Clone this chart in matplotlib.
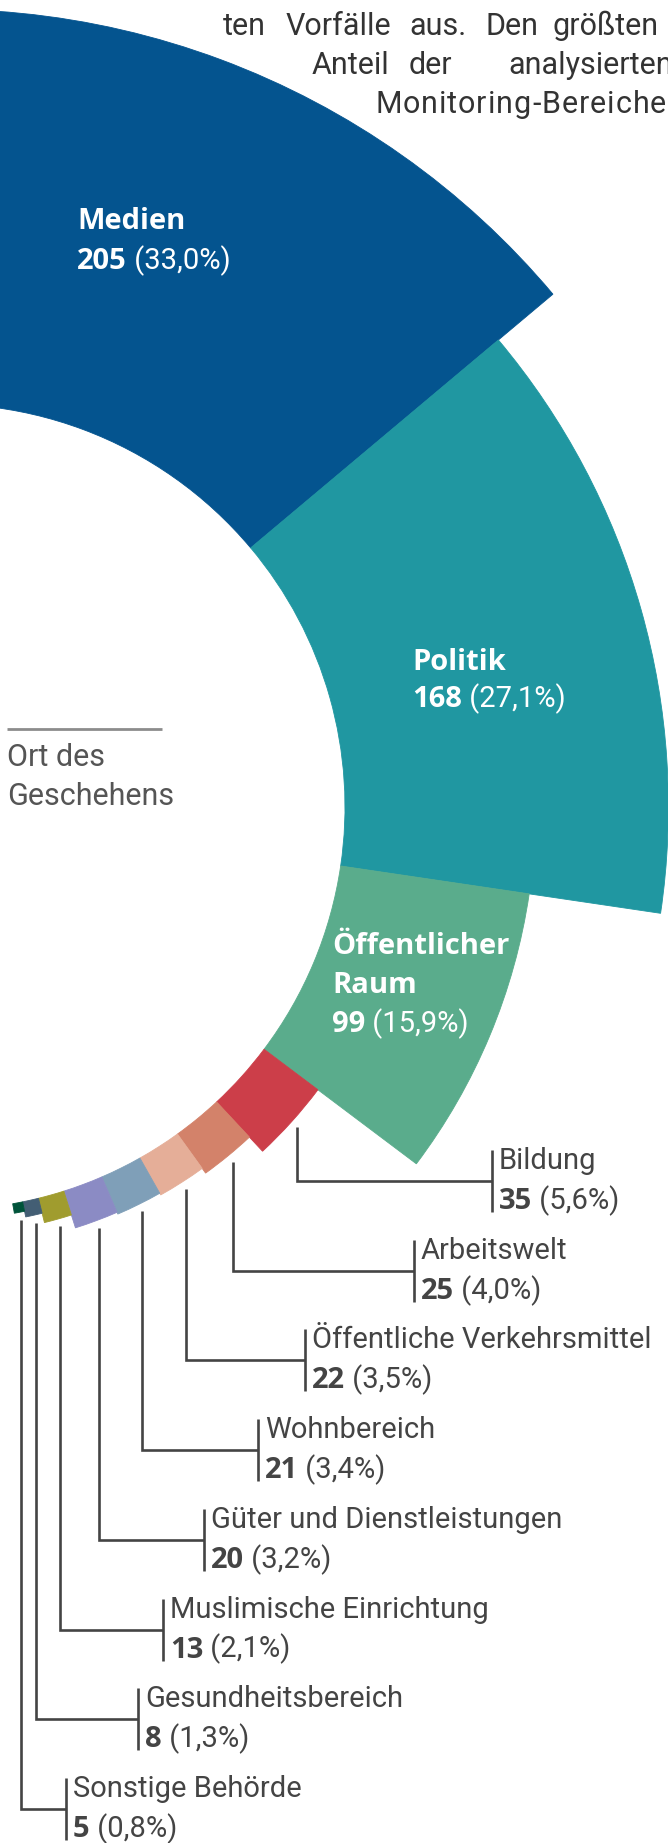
import numpy as np
import matplotlib
matplotlib.use("Agg")
import matplotlib.pyplot as plt

plt.rcParams['font.family'] = ['Roboto', 'DejaVu Sans']

# Daten: Ort des Geschehens
categories = ["Medien", "Politik", "Öffentlicher Raum", "Bildung", "Arbeitswelt",
              "Öffentliche Verkehrsmittel", "Wohnbereich", "Güter und Dienstleistungen",
              "Muslimische Einrichtung", "Gesundheitsbereich", "Sonstige Behörde"]
counts = [205, 168, 99, 35, 25, 22, 21, 20, 13, 8, 5]
colors = ["#04548f", "#2097a1", "#5aac8c", "#cc3e49", "#d3826a", "#e5ae98",
          "#7f9fb8", "#8b8bc4", "#a09c2e", "#435e74", "#00533a"]

# Fliesstext oben (abgeschnitten)
para_lines = [["ten", "Vorfälle", "aus.", "Den", "größten"],
              ["Anteil", "der", "analysierten"]]
para_last = "Monitoring-Bereiche"

# Layout (Pixel)
W, H = 668, 1843
CX, CY = -58, 807          # Kreismittelpunkt
PX_PER_UNIT = 1.925
INNER = 403 / PX_PER_UNIT  # innerer Radius in Einheiten
RMAX = 460
START, SWEEP = 99.1, 179.0
FS = 21
TXT = "#444444"
BOLD = ['Open Sans', 'DejaVu Sans']


def two_part(ax, x, y, bold, normal, color, size=FS):
    """fetter Teil + normaler Teil auf einer Grundlinie"""
    t = ax.text(x, y, bold, family=BOLD, fontweight='bold', color=color,
                fontsize=size, ha='left', va='baseline')
    ax.annotate(normal, xy=(1, 0), xycoords=t, ha='left', va='bottom',
                color=color, fontsize=size)


def fmt_pct(p):
    return f"{p:.1f}".replace('.', ',') + "%"


fig = plt.figure(figsize=(W / 100, H / 100), dpi=100)
R_px = RMAX * PX_PER_UNIT
pax = fig.add_axes([(CX - R_px) / W, (H - CY - R_px) / H, 2 * R_px / W, 2 * R_px / H],
                   projection='polar')
pax.set_theta_offset(np.deg2rad(START))
pax.set_theta_direction(-1)
pax.set_ylim(0, RMAX)
pax.axis('off')

values = np.array(counts, dtype=float)
pct = values / values.sum() * 100
widths = np.deg2rad(values / values.sum() * SWEEP)
lefts = np.concatenate([[0], np.cumsum(widths)[:-1]])
pax.bar(lefts, values, width=widths, bottom=INNER, align='edge',
        color=colors, edgecolor=colors, linewidth=0.6)

oax = fig.add_axes([0, 0, 1, 1])
oax.set_xlim(0, W)
oax.set_ylim(H, 0)
oax.axis('off')
oax.patch.set_visible(False)

# Beschriftungen in den grossen Segmenten
inner_labels = [(77, ["Medien"], [229, 269]),
                (412, ["Politik"], [670, 707]),
                (332, ["Öffentlicher", "Raum"], [954, 993, 1032])]
for i, (x, names, ys) in enumerate(inner_labels):
    for name, y in zip(names, ys):
        oax.text(x, y, name, color='white', fontsize=FS, family=BOLD,
                 fontweight='bold', ha='left', va='baseline')
    two_part(oax, x, ys[-1], f"{counts[i]}", f" ({fmt_pct(pct[i])})", 'white')

# kleine Segmente mit Fuehrungslinien
label_x = [492, 414, 305, 258, 204, 163, 138, 66]
row0, row_step = 1181, 89.7
gap = 4
for j, i in enumerate(range(3, len(counts))):
    mid = lefts[i] + widths[i] / 2
    disp = pax.transData.transform((mid, INNER + values[i] + gap))
    x0, y0 = oax.transData.inverted().transform(disp)
    ry = row0 + j * row_step
    bx = label_x[j]
    oax.plot([x0, x0, bx], [y0, ry, ry], color=TXT, lw=1.9,
             solid_joinstyle='miter', solid_capstyle='butt')
    oax.plot([bx, bx], [ry - 31, ry + 31], color=TXT, lw=1.9, solid_capstyle='butt')
    oax.text(bx + 7, ry - 12, categories[i], color=TXT, fontsize=FS,
             ha='left', va='baseline')
    two_part(oax, bx + 7, ry + 28, f"{counts[i]}", f" ({fmt_pct(pct[i])})", TXT)

# Titel links
oax.plot([7, 162], [729, 729], color="#8c8c8c", lw=2, solid_capstyle='butt')
oax.text(7, 766, "Ort des", color="#555555", fontsize=22,
         ha='left', va='baseline')
oax.text(7, 805, "Geschehens", color="#555555", fontsize=22,
         ha='left', va='baseline')

# Absatz oben rechts (Blocksatz)
para_x = [[223, 286, 409, 486, 553], [312, 409, 508]]
para_y = [35, 74, 113]
for words, xs, y in zip(para_lines, para_x, para_y):
    for w, x in zip(words, xs):
        oax.text(x, y, w, color="#333333", fontsize=22,
                 ha='left', va='baseline')
prev = oax.text(375, para_y[2], para_last[0], color="#333333", fontsize=22,
                ha='left', va='baseline')
for ch in para_last[1:]:
    prev = oax.annotate(ch, xy=(1, 0), xycoords=prev, xytext=(0.7, 0),
                        textcoords='offset points', ha='left', va='bottom',
                        color="#333333", fontsize=22)

fig.savefig("out.png", dpi=100)
